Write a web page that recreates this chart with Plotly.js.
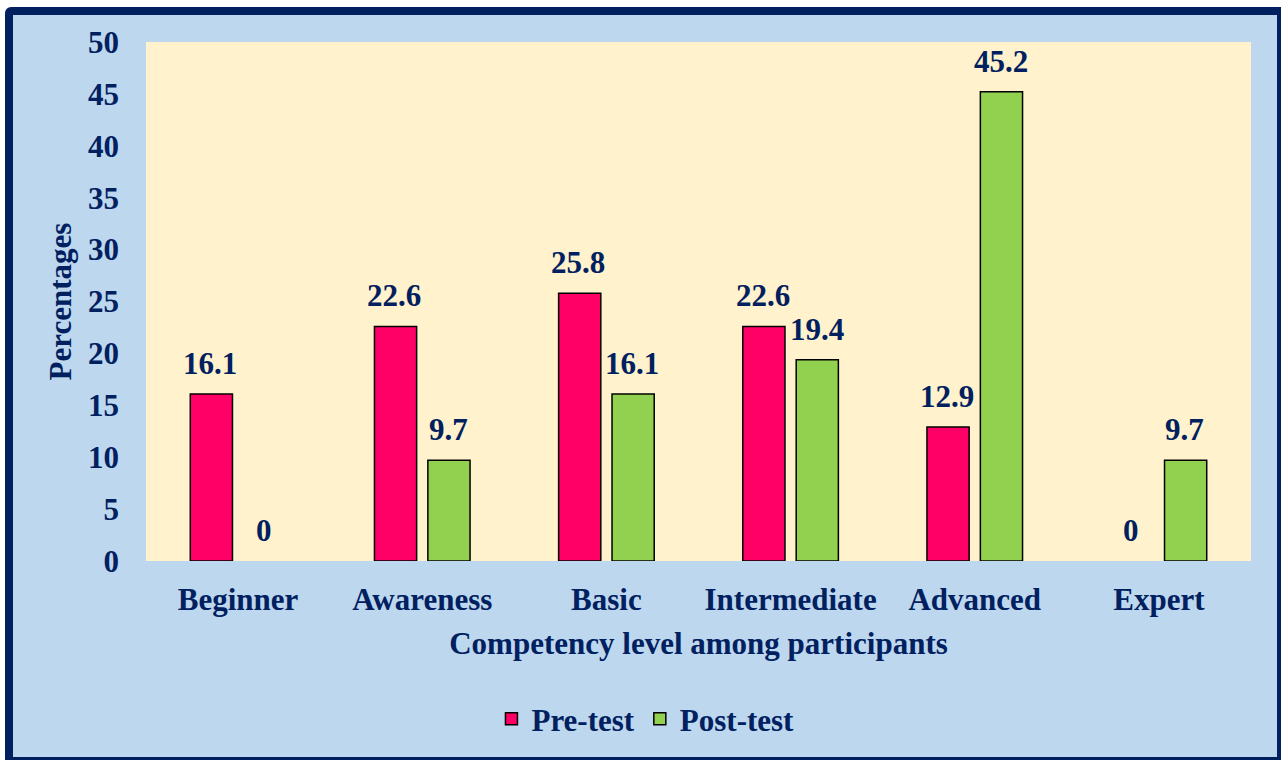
<!DOCTYPE html>
<html>
<head>
<meta charset="utf-8">
<script src="https://cdn.plot.ly/plotly-3.0.1.min.js"></script>
<style>
  html, body { margin: 0; padding: 0; background: #ffffff; width: 1281px; height: 760px; overflow: hidden; }
  #frame {
    position: absolute; left: 5px; top: 7px;
    width: 1276px; height: 753px; box-sizing: border-box;
    border-style: solid; border-color: #002060;
    border-width: 8px 4px 3px 8px;
    border-radius: 6px 0 0 0;
    background: #BDD7EE;
  }
  #chart { width: 1264px; height: 742px; }
</style>
</head>
<body>
<div id="frame"><div id="chart"></div></div>
<script>
const categories = ["Beginner", "Awareness", "Basic", "Intermediate", "Advanced", "Expert"];
const preTest = [16.1, 22.6, 25.8, 22.6, 12.9, 0];
const postTest = [0, 9.7, 16.1, 19.4, 45.2, 9.7];
const seriesNames = ["Pre-test", "Post-test"];
const yTicks = [0, 5, 10, 15, 20, 25, 30, 35, 40, 45, 50];

const navy = "#002060";
const font = "Liberation Serif";
const fs = 31;

// zero-height bars are not drawn in the reference (no outline stroke at the baseline)
const barY = arr => arr.map(v => (v === 0 ? null : v));

const traces = [
  {
    type: "bar", name: seriesNames[0], x: categories, y: barY(preTest),
    marker: { color: "#FF0066", line: { color: "#000000", width: 1.5 } },
    hoverinfo: "skip"
  },
  {
    type: "bar", name: seriesNames[1], x: categories, y: barY(postTest),
    marker: { color: "#92D050", line: { color: "#000000", width: 1.5 } },
    hoverinfo: "skip"
  }
];

const annotations = [];
[preTest, postTest].forEach((arr, si) => {
  arr.forEach((v, i) => {
    annotations.push({
      x: categories[i], y: v, xref: "x", yref: "y",
      text: String(v), showarrow: false,
      yanchor: "bottom", yshift: 11,
      xshift: si === 0 ? -28 : 26,
      font: { family: font, size: fs, color: navy, weight: "bold" }
    });
  });
});

const layout = {
  width: 1264, height: 742,
  paper_bgcolor: "rgba(0,0,0,0)",
  plot_bgcolor: "#FFF2CC",
  margin: { l: 133, r: 26, t: 27, b: 195 },
  barmode: "group",
  bargap: 0.42,
  bargroupgap: 0.21,
  showlegend: true,
  legend: {
    orientation: "h", x: 0.452, xanchor: "center", y: -0.302, yanchor: "middle",
    font: { family: font, size: fs, color: navy, weight: "bold" },
    bgcolor: "rgba(0,0,0,0)", traceorder: "normal"
  },
  xaxis: {
    type: "category",
    tickfont: { family: font, size: fs, color: navy, weight: "bold" },
    ticks: "", showline: false, showgrid: false,
    title: { text: "Competency level among participants", standoff: 16,
             font: { family: font, size: fs, color: navy, weight: "bold" } },
    ticklabelstandoff: 17
  },
  yaxis: {
    range: [0, 50], tickvals: yTicks, ticktext: yTicks.map(String),
    tickfont: { family: font, size: fs, color: navy, weight: "bold" },
    showgrid: false, zeroline: false, showline: false, ticks: "",
    ticklabelstandoff: 26,
    title: { text: "Percentages", standoff: 7,
             font: { family: font, size: fs, color: navy, weight: "bold" } }
  },
  annotations: annotations
};

Plotly.newPlot("chart", traces, layout, { displayModeBar: false, staticPlot: true });
</script>
</body>
</html>
